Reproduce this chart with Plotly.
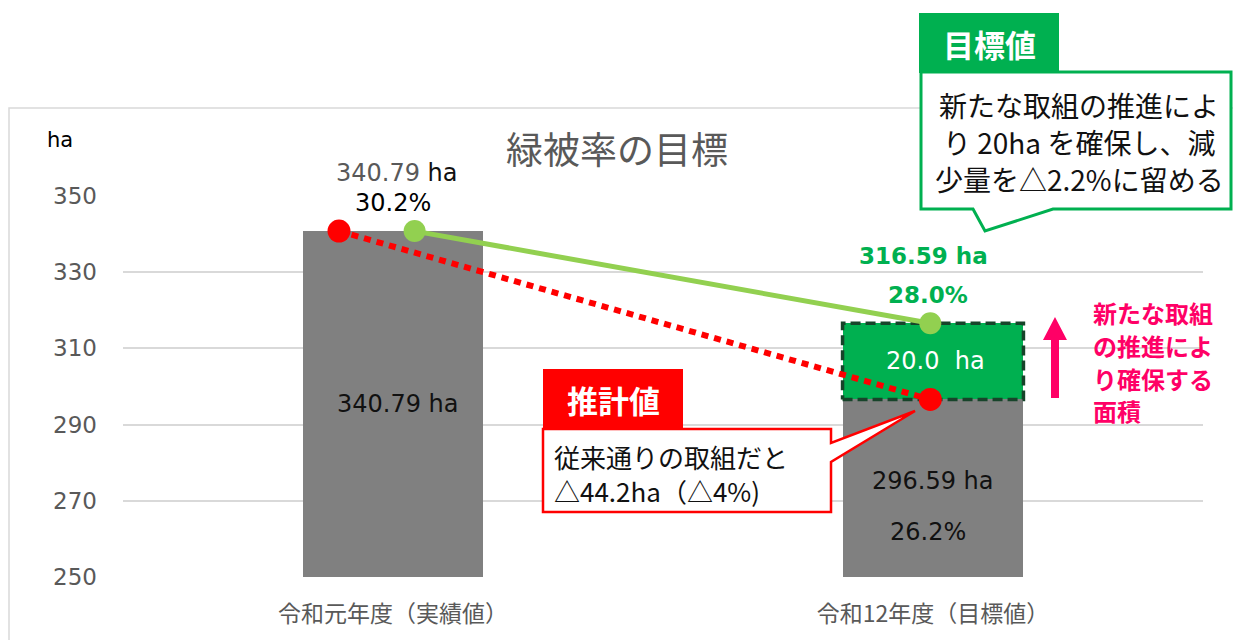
import plotly.graph_objects as go

# ---------------- data ----------------
categories = ["令和元年度（実績値）", "令和12年度（目標値）"]
area_base = [340.79, 296.59]          # gray bars (ha)
area_added = [0.0, 20.0]              # green stacked part (ha)
estimate_line = [340.79, 296.59]      # 推計値 (red dotted)
target_line = [340.79, 316.59]        # 目標値 (green)
ratio_top = ["30.2%", "28.0%"]
ratio_base_2 = "26.2%"
y_ticks = [250, 270, 290, 310, 330, 350]

# ---------------- layout helpers ----------------
W, H = 1233, 640
PL, PR, PT, PB = 123, 1203, 196, 577
FONT = "DejaVu Sans, Noto Sans CJK JP"
CJK = "Noto Sans CJK JP"
GRAY_TXT = "#595959"
GREEN = "#00B050"
LGREEN = "#92D050"
RED = "#FF0000"
PINK = "#FF0066"


def px(x):
    return (x - PL) / (PR - PL)


def py(y):
    return (PB - y) / (PB - PT)


xc = [0, 1]
BW = 0.335

fig = go.Figure()

fig.add_trace(go.Bar(x=xc, y=area_base, width=BW, marker=dict(color="#808080", line=dict(width=0)),
                     hoverinfo="skip"))
fig.add_trace(go.Bar(x=xc, y=[v if v else None for v in area_added], width=BW,
                     marker=dict(color=GREEN, line=dict(width=0)), hoverinfo="skip"))

# dashed border around the added part
bx0, bx1 = xc[1] - BW / 2, xc[1] + BW / 2
by0, by1 = area_base[1], area_base[1] + area_added[1]
fig.add_trace(go.Scatter(x=[bx0, bx1, bx1, bx0, bx0], y=[by0, by0, by1, by1, by0], mode="lines",
                         line=dict(color="#17442A", width=3.5, dash="10px,5px"), hoverinfo="skip"))

# lines
fig.add_trace(go.Scatter(x=[xc[0] - 0.10, xc[1] - 0.005], y=estimate_line, mode="lines+markers",
                         line=dict(color=RED, width=6, dash="7px,6px"),
                         marker=dict(color=RED, size=23), hoverinfo="skip"))
fig.add_trace(go.Scatter(x=[xc[0] + 0.04, xc[1] - 0.005], y=target_line, mode="lines+markers",
                         line=dict(color=LGREEN, width=5),
                         marker=dict(color=LGREEN, size=22), hoverinfo="skip"))

ann = []


def dlabel(x, y, text, yshift=0, xshift=0, size=24, color="#111111"):
    ann.append(dict(x=x, y=y, xref="x", yref="y", xshift=xshift, yshift=yshift, text=text,
                    xanchor="center", yanchor="middle", showarrow=False,
                    font=dict(size=size, color=color, family=FONT)))


def plabel(x, y, text, size=24, color="#111111", xanchor="center", family=FONT, align="center"):
    ann.append(dict(x=px(x), y=py(y), xref="paper", yref="paper", text=text, align=align,
                    xanchor=xanchor, yanchor="middle", showarrow=False,
                    font=dict(size=size, color=color, family=family)))


# value labels
dlabel(xc[0], area_base[0], f"<span style='color:{GRAY_TXT}'>{area_base[0]:.2f}</span> ha", yshift=58, xshift=4)
dlabel(xc[0], area_base[0], ratio_top[0], yshift=28, color="#000000")
dlabel(xc[0], (250 + area_base[0]) / 2, f"{area_base[0]:.2f} ha", xshift=5)
dlabel(xc[1], (250 + area_base[1]) / 2, f"{area_base[1]:.2f} ha", yshift=7)
dlabel(xc[1], (250 + area_base[1]) / 2, ratio_base_2, yshift=-44, xshift=-5)
dlabel(xc[1], area_base[1] + area_added[1] / 2, f"{area_added[1]:.1f}&nbsp; ha", xshift=2, color="#FFFFFF")
tot2 = area_base[1] + area_added[1]
dlabel(xc[1], tot2, f"<b>{tot2:.2f} ha</b>", yshift=67, xshift=-10, size=23, color=GREEN)
dlabel(xc[1], tot2, f"<b>{ratio_top[1]}</b>", yshift=28, xshift=-5, size=23, color=GREEN)

# title, unit
plabel(617, 148, "緑被率の目標", size=37, color=GRAY_TXT, family=CJK)
plabel(60, 140, "ha", size=21, color="#000000")

shapes = []
# outer chart border
shapes.append(dict(type="rect", xref="paper", yref="paper", x0=px(9), x1=px(1260), y0=py(108), y1=py(660),
                   line=dict(color="#D9D9D9", width=1.5), fillcolor="rgba(0,0,0,0)", layer="below"))


def path(points):
    return "M " + " L ".join(f"{px(a):.5f},{py(b):.5f}" for a, b in points) + " Z"


# top callout (目標値)
shapes.append(dict(type="path", xref="paper", yref="paper",
                   path=path([(921, 72), (1231, 72), (1231, 209), (1053, 209), (985, 231), (973, 209), (921, 209)]),
                   fillcolor="#FFFFFF", line=dict(color=GREEN, width=3), layer="above"))
shapes.append(dict(type="rect", xref="paper", yref="paper", x0=px(919), x1=px(1059), y0=py(73), y1=py(13),
                   fillcolor=GREEN, line=dict(width=0), layer="above"))
plabel(989, 43, "<b>目標値</b>", size=31, color="#FFFFFF", family=CJK)
for txt, yy in [("新たな取組の推進によ", 105), ("り 20ha を確保し、減", 142), ("少量を△2.2%に留める", 179)]:
    plabel(1079, yy, txt, size=28, family=CJK)

# red callout (推計値)
shapes.append(dict(type="path", xref="paper", yref="paper",
                   path=path([(543, 429), (831, 429), (831, 443), (915, 411), (831, 462), (831, 512), (543, 512)]),
                   fillcolor="#FFFFFF", line=dict(color=RED, width=2.5), layer="above"))
shapes.append(dict(type="rect", xref="paper", yref="paper", x0=px(543), x1=px(683), y0=py(430), y1=py(369),
                   fillcolor=RED, line=dict(width=0), layer="above"))
plabel(613, 399, "<b>推計値</b>", size=31, color="#FFFFFF", family=CJK)
plabel(552, 473, "従来通りの取組だと<br>△44.2ha（△4%)", size=26, xanchor="left", family=CJK, align="left")

# pink arrow
shapes.append(dict(type="path", xref="paper", yref="paper",
                   path=path([(1051, 398), (1059, 398), (1059, 340), (1067, 340), (1055, 317),
                              (1043, 340), (1051, 340)]),
                   fillcolor=PINK, line=dict(width=0), layer="above"))
for txt, yy in [("新たな取組", 312), ("の推進によ", 345), ("り確保する", 378), ("面積", 410)]:
    plabel(1091, yy, f"<b>{txt}</b>", size=24, color=PINK, xanchor="left", family=CJK)

fig.update_layout(
    width=W, height=H,
    margin=dict(l=PL, r=W - PR, t=PT, b=H - PB, pad=0),
    paper_bgcolor="#FFFFFF", plot_bgcolor="#FFFFFF",
    barmode="stack", bargap=0, showlegend=False,
    font=dict(family=FONT, color=GRAY_TXT),
    annotations=ann, shapes=shapes,
    xaxis=dict(range=[-0.5, 1.5], tickvals=xc, ticktext=categories, showgrid=False, zeroline=False,
               showline=False, ticks="", tickfont=dict(size=23, color=GRAY_TXT, family=CJK),
               ticklabelstandoff=21),
    yaxis=dict(range=[250, 350], tickvals=y_ticks, showgrid=True, gridcolor="#D9D9D9", gridwidth=1.5,
               zeroline=False, showline=False, ticks="", tickfont=dict(size=23, color=GRAY_TXT),
               ticklabelstandoff=25),
)

fig.write_html("out.html", config={"displayModeBar": False},
               post_script="document.body.style.margin='0px';document.body.style.padding='0px';")
